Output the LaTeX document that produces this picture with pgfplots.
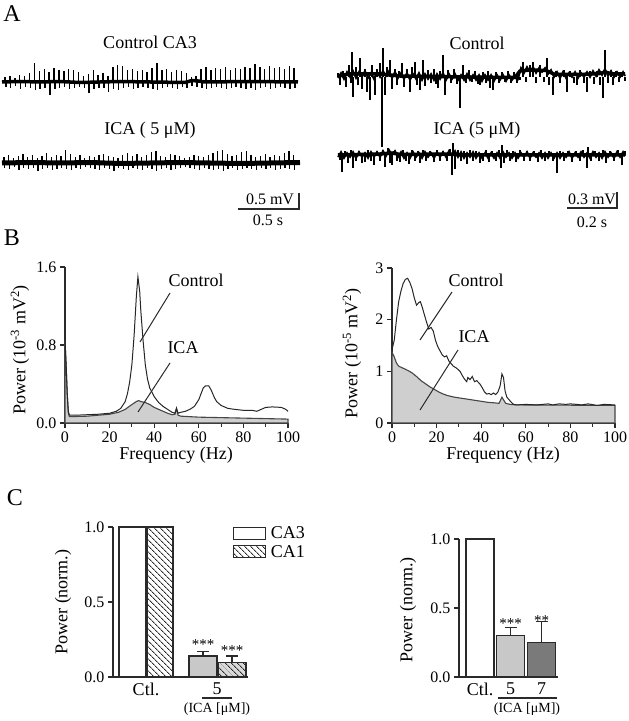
\documentclass[border=0pt]{standalone}
\usepackage{fontspec}
\setmainfont{Liberation Serif}
\usepackage{pgfplots}
\pgfplotsset{compat=1.18}
\usetikzlibrary{patterns.meta}
\definecolor{lgray}{HTML}{C8C8C8}
\definecolor{dgray}{HTML}{7A7A7A}
\definecolor{fgray}{HTML}{CFCFCF}
\definecolor{axgray}{HTML}{2A2A2A}
\newcommand{\fs}[1]{\fontsize{#1}{#1}\selectfont}
\pgfplotsset{
  trace/.style={hide axis, scale only axis, clip=false, ymin=-40, ymax=40, height=80pt, anchor=west},
  spec/.style={scale only axis, width=223pt, anchor=south west, clip=false,
    axis x line*=bottom, axis y line*=left, axis line style={-, line width=1.2pt, axgray},
    tick align=outside, tick pos=left, major tick length=5pt, minor tick length=4pt,
    every tick/.style={line width=1.1pt, axgray},
    xmin=0, xmax=100, xtick={0,20,...,100}, xticklabels={0,20,40,60,80,100},
    minor xtick={10,30,50,70,90},
    tick label style={font=\fs{16}}, label style={font=\fs{18}},
    /pgf/number format/assume math mode=true},
  barax/.style={scale only axis, anchor=south west, clip=false,
    axis x line*=bottom, axis y line*=left, axis line style={-, line width=1.3pt, axgray},
    ymin=0, ymax=1, ytick={0,0.5,1}, yticklabels={0.0,0.5,1.0},
    tick align=outside, tick pos=left, major tick length=5pt,
    every tick/.style={line width=1.1pt, axgray}, xtick style={draw=none},
    tick label style={font=\fs{16}}, x tick label style={font=\fs{18}, yshift=2.5pt},
    label style={font=\fs{18}}, /pgf/number format/assume math mode=true},
  bbar/.style={ybar, bar shift=0pt, draw=axgray, line width=1.2pt},
  errb/.style={error bars/.cd, y dir=plus, y explicit,
    error bar style={line width=1.2pt, axgray},
    error mark options={rotate=90, mark size=6pt, line width=1.2pt, axgray}},
  boxlegend/.style={legend image code/.code={\draw[##1, line width=1.2pt] (0pt,-6pt) rectangle (32pt,6pt);}},
}
\begin{document}
\begin{tikzpicture}
\useasboundingbox (0pt,0pt) rectangle (629pt,721pt);
% ---------------- Panel A ----------------
\node[font=\fs{24}] at (12pt,707pt) {A};
\node[font=\fs{18}] at (150pt,679pt) {Control CA3};
\node[font=\fs{18}] at (150pt,591pt) {ICA ( 5 μM)};
\node[font=\fs{18}] at (477pt,678pt) {Control};
\node[font=\fs{18}] at (477pt,591pt) {ICA (5 μM)};

\begin{axis}[trace, at={(0pt,639pt)}, xmin=0, xmax=300, width=300pt]
\addplot[black, line width=3.5pt] coordinates {(2,0)(20,0.5)(40,0)(60,0.5)(80,-0.5)(100,0)(120,0.5)(150,0)(185,-0.5)(192,1.5)(198,1)(205,0)(250,0.5)(298,0)};
\addplot[ycomb, black, line width=1.4pt] coordinates {
(5,5)(5.8,-5)(9.9,6)(10.7,-6)(14.8,4)(15.6,-4)(19.7,7)(20.5,-7)(24.6,6)(25.4,-5)(29.5,9)(30.3,-6)(34.4,19)(35.2,-8)(39.3,11)(40.1,-7)(44.2,13)(45,-6)(49.1,10)(49.9,-13)(54,14)(54.8,-7)(58.9,12)(59.7,-6)(63.8,11)(64.6,-5)(68.7,13)(69.5,-7)(73.6,12)(74.4,-6)(78.5,10)(79.3,-5)(83.4,6)(84.2,-6)(88.3,8)(89.1,-11)(93.2,12)(94,-7)(98.1,7)(98.9,-6)(103,9)(103.8,-6)(107.9,6)(108.7,-10)(112.8,15)(113.6,-7)(117.7,17)(118.5,-8)(122.6,16)(123.4,-6)(127.5,12)(128.3,-5)(132.4,13)(133.2,-7)(137.3,11)(138.1,-6)(142.2,12)(143,-5)(147.1,10)(147.9,-6)(152,14)(152.8,-7)(156.9,19)(157.7,-8)(161.8,12)(162.6,-6)(166.7,13)(167.5,-5)(171.6,10)(172.4,-6)(176.5,12)(177.3,-7)(181.4,11)(182.2,-5)(186.3,9)(187.1,-6)(191.2,5)(192,-4)(196.1,6)(196.9,-5)(201,13)(201.8,-6)(205.9,15)(206.7,-7)(210.8,12)(211.6,-6)(215.7,14)(216.5,-5)(220.6,13)(221.4,-6)(225.5,15)(226.3,-7)(230.4,12)(231.2,-6)(235.3,14)(236.1,-5)(240.2,13)(241,-6)(245.1,15)(245.9,-7)(250,14)(250.8,-6)(254.9,18)(255.7,-8)(259.8,15)(260.6,-6)(264.7,13)(265.5,-5)(269.6,16)(270.4,-7)(274.5,14)(275.3,-6)(279.4,15)(280.2,-5)(284.3,13)(285.1,-6)(289.2,16)(290,-7)(294.1,14)(294.9,-6)};
\end{axis}

\begin{axis}[trace, at={(0pt,558pt)}, xmin=0, xmax=300, width=300pt]
\addplot[black, line width=5pt] coordinates {(2,0)(30,0.5)(60,0)(90,0.5)(120,-0.5)(150,0)(180,0.5)(210,0)(240,-0.5)(270,0)(300,0.5)};
\addplot[ycomb, black, line width=1.3pt] coordinates {
(4,6)(4.8,-5)(8.7,8)(9.5,-6)(13.5,5)(14.3,-4)(18.2,7)(19,-7)(23,9)(23.8,-5)(27.7,6)(28.5,-6)(32.5,8)(33.3,-5)(37.2,5)(38,-8)(42,7)(42.8,-6)(46.7,10)(47.5,-5)(51.5,6)(52.3,-7)(56.2,8)(57,-6)(61,7)(61.8,-5)(65.7,13)(66.5,-6)(70.5,9)(71.3,-7)(75.2,6)(76,-5)(80,8)(80.8,-6)(84.7,5)(85.5,-4)(89.5,7)(90.3,-5)(94.2,6)(95,-6)(99,8)(99.8,-7)(103.7,9)(104.5,-5)(108.5,7)(109.3,-6)(113.2,6)(114,-8)(118,5)(118.8,-5)(122.7,8)(123.5,-6)(127.5,10)(128.3,-7)(132.2,7)(133,-5)(137,9)(137.8,-6)(141.7,6)(142.5,-7)(146.5,8)(147.3,-5)(151.2,11)(152,-6)(156,12)(156.8,-8)(160.7,7)(161.5,-6)(165.5,6)(166.3,-5)(170.2,9)(171,-7)(175,8)(175.8,-6)(179.7,7)(180.5,-5)(184.5,5)(185.3,-4)(189.2,6)(190,-5)(194,8)(194.8,-6)(198.7,7)(199.5,-7)(203.5,6)(204.3,-5)(208.2,8)(209,-6)(213,10)(213.8,-7)(217.7,12)(218.5,-6)(222.5,13)(223.3,-8)(227.2,9)(228,-6)(232,7)(232.8,-5)(236.7,8)(237.5,-7)(241.5,11)(242.3,-6)(246.2,12)(247,-5)(251,8)(251.8,-6)(255.7,6)(256.5,-7)(260.5,7)(261.3,-5)(265.2,9)(266,-6)(270,6)(270.8,-5)(274.7,8)(275.5,-7)(279.5,7)(280.3,-6)(284.2,10)(285,-5)(289,12)(289.8,-6)(293.7,8)(294.5,-7)};
\end{axis}

\begin{axis}[trace, at={(335pt,644pt)}, xmin=335, xmax=628, width=293pt]
\addplot[black, line width=3.5pt] coordinates {(338,1)(350,3)(380,3)(400,1)(430,0.5)(470,0)(515,-0.5)(520,6)(530,7)(546,6.5)(555,2.5)(580,2.5)(600,3.5)(605,5)(612,3)(625,3)};
\addplot[black, line width=1.8pt] coordinates {
(338,-1)(341,4)(344,-2)(347,5)(350,0)(353,6)(356,-1)(359,5)(362,0)(365,6)(368,-1)(371,4)(374,-2)(377,5)(380,0)(383,6)(386,1)(389,6)(392,-1)(395,5)(398,-1)(401,4)(404,-2)(407,4)(410,-3)(413,3)(416,-2)(419,4)(422,-3)(425,3)(428,-2)(431,3)(434,-3)(437,3)(440,-2)(443,4)(446,-3)(449,3)(452,-2)(455,3)(458,-3)(461,2)(464,-3)(467,3)(470,-3)(473,2)(476,-3)(479,2)(482,-4)(485,2)(488,-3)(491,2)(494,-4)(497,2)(500,-3)(503,2)(506,-4)(509,2)(512,-3)(515,1)(518,-2)(521,9)(524,4)(527,10)(530,5)(533,10)(536,4)(539,9)(542,5)(545,9)(548,3)(551,7)(554,0)(557,5)(560,-1)(563,5)(566,-1)(569,4)(572,0)(575,5)(578,-1)(581,4)(584,0)(587,5)(590,0)(593,6)(596,1)(599,7)(602,2)(605,8)(608,1)(611,6)(614,0)(617,5)(620,0)(623,5)(625,1)};
\addplot[ycomb, black, line width=1.2pt] coordinates {
(338,4)(340,-8)(343,6)(346,-10)(349,12)(351,-6)(352,25)(353,-20)(356,10)(358,-8)(360,19)(362,-12)(365,8)(367,-15)(370,-23)(372,12)(375,-18)(377,8)(380,14)(382,-70)(383,29)(385,-18)(387,10)(390,17)(392,-12)(395,8)(397,-8)(399,6)(402,14)(404,-10)(407,8)(410,-15)(412,10)(415,15)(417,-8)(420,-13)(423,17)(425,-9)(428,7)(431,-6)(434,8)(436,-7)(438,-11)(440,6)(443,22)(445,-18)(448,7)(451,-6)(454,8)(457,-7)(460,-31)(463,12)(466,-6)(469,7)(472,-5)(475,6)(478,-7)(480,-8)(483,5)(486,-6)(488,6)(490,-11)(493,-13)(496,5)(499,-6)(502,5)(505,-5)(508,6)(511,-6)(514,5)(517,-6)(520,-3)(523,15)(526,-5)(530,12)(533,15)(536,-6)(540,12)(544,-5)(547,19)(549,-8)(553,-18)(556,6)(560,-6)(564,7)(567,-15)(570,6)(574,-6)(577,-8)(580,7)(584,-6)(587,-15)(590,6)(594,-7)(597,6)(600,-8)(603,-21)(605,27)(608,-6)(611,7)(613,-8)(616,6)(619,-5)(622,5)(625,-4)};
\end{axis}

\begin{axis}[trace, at={(335pt,566pt)}, xmin=335, xmax=628, width=293pt]
\addplot[black, line width=3.5pt] coordinates {(338,0)(380,1)(392,2)(400,0.5)(450,1)(460,0)(625,0)};
\addplot[black, line width=1.8pt] coordinates {
(338,-2)(341,3)(344,-3)(347,2)(350,-2)(353,3)(356,-3)(359,3)(362,-2)(365,2)(368,-3)(371,3)(374,-2)(377,3)(380,-2)(383,4)(386,-1)(389,5)(392,0)(395,4)(398,-2)(401,3)(404,-3)(407,2)(410,-3)(413,3)(416,-2)(419,2)(422,-3)(425,3)(428,-2)(431,2)(434,-3)(437,3)(440,-2)(443,3)(446,-2)(449,4)(452,-1)(455,4)(458,-2)(461,3)(464,-3)(467,2)(470,-2)(473,3)(476,-3)(479,2)(482,-3)(485,2)(488,-3)(491,2)(494,-3)(497,2)(500,-3)(503,3)(506,-2)(509,2)(512,-3)(515,2)(518,-3)(521,2)(524,-2)(527,3)(530,-3)(533,2)(536,-2)(539,2)(542,-3)(545,2)(548,-3)(551,2)(554,-3)(557,2)(560,-3)(563,2)(566,-2)(569,3)(572,-3)(575,2)(578,-2)(581,3)(584,-2)(587,2)(590,-3)(593,3)(596,-2)(599,2)(602,-3)(605,3)(608,-2)(611,2)(614,-3)(617,3)(620,-2)(623,3)(625,-1)};
\addplot[ycomb, black, line width=1.2pt] coordinates {
(340,-5)(342,-17)(345,4)(348,-8)(351,5)(353,-13)(356,-6)(359,4)(362,-8)(365,-7)(368,5)(371,-6)(374,-10)(377,4)(380,-6)(383,5)(385,-12)(388,7)(390,-8)(392,-10)(394,4)(397,-6)(400,-7)(403,5)(406,-6)(409,-9)(412,5)(415,-6)(418,4)(420,-8)(423,5)(426,-6)(430,4)(434,-7)(437,5)(440,-6)(443,4)(447,-6)(450,6)(452,-20)(453,12)(455,-14)(458,5)(461,-6)(464,4)(467,-9)(470,5)(473,-6)(476,4)(480,-8)(483,-6)(486,5)(489,-7)(492,4)(496,-6)(499,5)(501,-13)(502,10)(504,-8)(507,5)(510,-6)(513,4)(516,-7)(520,5)(524,-6)(527,4)(530,-6)(534,4)(538,-7)(541,5)(545,-6)(549,4)(553,-6)(557,-18)(560,4)(564,-6)(568,4)(572,-7)(576,4)(580,-6)(583,5)(587,-13)(588,8)(591,-6)(595,4)(599,-6)(603,5)(606,-8)(610,4)(614,-6)(618,5)(622,-10)(625,4)};
\end{axis}

% scale bars
\draw[line width=1.2pt, axgray] (238pt,512pt) -- (299pt,512pt) -- (299pt,528pt);
\node[font=\fs{16}] at (270pt,522pt) {0.5 mV};
\node[font=\fs{16}] at (268pt,501pt) {0.5 s};
\draw[line width=1.2pt, axgray] (567pt,513pt) -- (617pt,513pt) -- (617pt,529pt);
\node[font=\fs{16}] at (592pt,522pt) {0.3 mV};
\node[font=\fs{16}] at (592pt,499pt) {0.2 s};

% ---------------- Panel B ----------------
\node[font=\fs{24}] at (12pt,483pt) {B};
\begin{axis}[spec, at={(65pt,298pt)}, height=156pt, ymin=0, ymax=1.6,
  ytick={0,0.8,1.6}, yticklabels={0.0,0.8,1.6},
  xlabel={Frequency (Hz)}, ylabel={Power (10\textsuperscript{-3} mV\textsuperscript{2})},
  xlabel style={at={(axis description cs:0.498,-0.205)}, anchor=center},
  ylabel style={at={(axis description cs:-0.202,0.468)}, anchor=center}]
\addplot[fill=fgray, draw=gray!55!black, line width=1.1pt] coordinates {
(0,0.85)(0.5,0.6)(1,0.3)(1.5,0.1)(2,0.065)(10,0.07)(20,0.09)(24,0.11)(27,0.14)(30,0.19)(32,0.22)(33,0.23)(34,0.22)(36,0.21)(38,0.19)(40,0.16)(42,0.14)(44,0.12)(46,0.1)(48,0.085)(49.3,0.09)(50,0.15)(50.7,0.08)(52,0.07)(56,0.065)(60,0.06)(70,0.055)(80,0.05)(90,0.045)(100,0.04)} \closedcycle;
\addplot[draw=black!85, line width=1pt] coordinates {
(0,0.85)(0.5,0.6)(1,0.3)(1.5,0.12)(2,0.08)(5,0.08)(10,0.085)(15,0.09)(20,0.1)(23,0.12)(25,0.15)(27,0.22)(28,0.3)(29,0.42)(30,0.6)(31,0.9)(32,1.3)(32.7,1.5)(33.5,1.35)(34,1.15)(35,0.85)(36,0.6)(37,0.45)(38,0.36)(40,0.27)(42,0.21)(44,0.17)(46,0.14)(48,0.11)(49.3,0.1)(50,0.15)(50.7,0.1)(52,0.11)(54,0.12)(56,0.14)(58,0.17)(60,0.24)(61,0.3)(62,0.36)(63,0.38)(64.5,0.38)(65.5,0.34)(67,0.26)(68,0.22)(70,0.18)(73,0.15)(76,0.14)(80,0.13)(84,0.13)(86,0.12)(88,0.14)(90,0.16)(93,0.165)(97,0.16)(99,0.14)(100,0.12)};
\end{axis}
\node[font=\fs{18}] at (196pt,441pt) {Control};
\draw[line width=1pt, axgray] (170pt,428pt) -- (140pt,379pt);
\node[font=\fs{18}] at (183pt,373pt) {ICA};
\draw[line width=1pt, axgray] (170pt,358pt) -- (138pt,309pt);

\begin{axis}[spec, at={(392pt,298pt)}, height=155pt, ymin=0, ymax=3,
  ytick={0,1,2,3}, yticklabels={0,1,2,3},
  xlabel={Frequency (Hz)}, ylabel={Power (10\textsuperscript{-5} mV\textsuperscript{2})},
  xlabel style={at={(axis description cs:0.498,-0.206)}, anchor=center},
  ylabel style={at={(axis description cs:-0.179,0.45)}, anchor=center}]
\addplot[fill=fgray, draw=gray!55!black, line width=1.1pt] coordinates {
(0,1.37)(1,1.28)(2,1.16)(3,1.1)(5,1.06)(7,1.02)(9,0.97)(11,0.9)(13,0.82)(15,0.76)(17,0.7)(19,0.65)(21,0.6)(23,0.56)(25,0.53)(28,0.5)(31,0.48)(34,0.46)(37,0.44)(40,0.42)(43,0.4)(46,0.39)(48,0.38)(49.3,0.5)(50,0.45)(51,0.38)(53,0.36)(56,0.35)(100,0.34)} \closedcycle;
\addplot[draw=black!85, line width=1pt] coordinates {
(0,1.42)(1,1.6)(2,2.0)(3,2.35)(4,2.55)(5,2.7)(6,2.78)(7,2.8)(8,2.72)(9,2.6)(10,2.42)(11,2.28)(12,2.33)(12.7,2.35)(13.5,2.25)(14.5,2.1)(15.5,1.95)(16.5,1.82)(17.5,1.85)(18.5,1.78)(19.5,1.6)(20.5,1.48)(21.5,1.4)(22.5,1.32)(23.5,1.28)(24.5,1.3)(25.5,1.2)(26.5,1.15)(27.5,1.1)(29,1.06)(30.5,1.0)(31.5,0.92)(32.5,0.85)(33.5,0.8)(34,0.88)(35,0.84)(36,0.9)(37,0.8)(38,0.82)(39.5,0.75)(40.5,0.68)(41.5,0.6)(42.5,0.56)(43.5,0.57)(44.5,0.55)(45.5,0.58)(46.5,0.55)(47.5,0.6)(48.5,0.72)(49.3,0.95)(50,0.88)(50.7,0.62)(51.5,0.5)(52.5,0.45)(53.5,0.4)(54.5,0.36)(56,0.35)(60,0.36)(65,0.35)(70,0.37)(72,0.35)(75,0.37)(78,0.36)(80,0.37)(83,0.36)(85,0.35)(88,0.37)(92,0.34)(95,0.36)(100,0.35)};
\end{axis}
\node[font=\fs{18}] at (476pt,441pt) {Control};
\draw[line width=1pt, axgray] (452pt,429pt) -- (420pt,381pt);
\node[font=\fs{18}] at (474pt,384pt) {ICA};
\draw[line width=1pt, axgray] (458pt,371pt) -- (420pt,311pt);

% ---------------- Panel C ----------------
\node[font=\fs{24}] at (15pt,223pt) {C};
\begin{axis}[barax, at={(113pt,44pt)}, width=135pt, height=150pt, xmin=113, xmax=248,
  xtick={146,217}, xticklabels={Ctl.,5},
  ylabel={Power (norm.)},
  ylabel style={at={(axis description cs:-0.37,0.5)}, anchor=center},
  legend style={draw=none, fill=none, at={(axis description cs:0.889,1.013)}, anchor=north west,
    inner sep=0pt, font=\fs{18}, row sep=2pt, nodes={inner sep=1.5pt},
    /tikz/every odd column/.append style={column sep=3pt}},
  legend cell align=left]
\addplot[bbar, bar width=27pt, fill=white, boxlegend] coordinates {(132.5,1)};
\addplot[bbar, bar width=26pt, fill=white, postaction={pattern={Lines[angle=-45,distance=4pt,line width=0.9pt]}, pattern color=axgray}, boxlegend] coordinates {(160,1)};
\addplot[bbar, bar width=28pt, fill=lgray, errb] coordinates {(203,0.14) +- (0,0.03)};
\addplot[bbar, bar width=28pt, fill=lgray!70, postaction={pattern={Lines[angle=-45,distance=4pt,line width=0.9pt]}, pattern color=axgray}, errb] coordinates {(232,0.095) +- (0,0.045)};
\legend{CA3,CA1}
\node[anchor=base, font=\fs{15}] at (axis cs:203,0.185) {***};
\node[anchor=base, font=\fs{15}] at (axis cs:232,0.145) {***};
\end{axis}
\draw[line width=1.2pt, axgray] (202pt,23pt) -- (232pt,23pt);
\node[font=\fs{14}, inner sep=0pt] at (217pt,12pt) {(ICA [μM])};

\begin{axis}[barax, at={(459pt,44pt)}, width=99pt, height=138pt, xmin=459, xmax=558,
  xtick={480,510.5,541.5}, xticklabels={Ctl.,5,7},
  ylabel={Power (norm.)},
  ylabel style={at={(axis description cs:-0.515,0.486)}, anchor=center}]
\addplot[bbar, bar width=28pt, fill=white] coordinates {(480,1)};
\addplot[bbar, bar width=28pt, fill=lgray, errb] coordinates {(510.5,0.30) +- (0,0.06)};
\addplot[bbar, bar width=28pt, fill=dgray, errb] coordinates {(541.5,0.25) +- (0,0.15)};
\node[anchor=base, font=\fs{15}] at (axis cs:510.5,0.355) {***};
\node[anchor=base, font=\fs{15}] at (axis cs:541.5,0.37) {**};
\end{axis}
\draw[line width=1.2pt, axgray] (498pt,23pt) -- (557pt,23pt);
\node[font=\fs{14}, inner sep=0pt] at (527pt,12pt) {(ICA [μM])};
\end{tikzpicture}
\end{document}
